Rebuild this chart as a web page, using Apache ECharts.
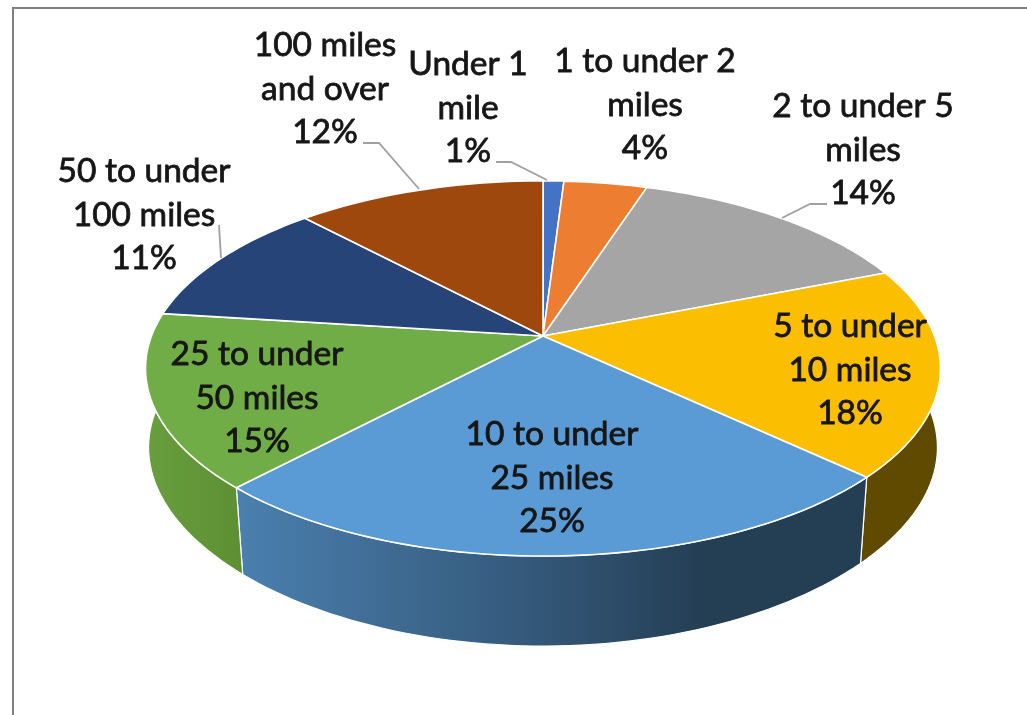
<!DOCTYPE html>
<html>
<head>
<meta charset="utf-8">
<style>
html,body{margin:0;padding:0;background:#fff;overflow:hidden}
#chart{width:1027px;height:715px;filter:blur(0.6px)}
</style>
<script src="https://cdn.jsdelivr.net/npm/echarts@6/dist/echarts.min.js"></script>
</head>
<body>
<div id="chart"></div>
<script>
// --- data ---
const categories = ['Under 1\nmile','1 to under 2\nmiles','2 to under 5\nmiles','5 to under\n10 miles','10 to under\n25 miles','25 to under\n50 miles','50 to under\n100 miles','100 miles\nand over'];
const shares = [1,4,14,18,25,15,11,12];
// --- styles and layout, separate from the data ---
const topColors = ['#4472c4','#ed7d31','#a5a5a5','#fbbe00','#5b9bd5','#70ad47','#264478','#9e480e'];
const wallColors = [
  '#2d4c84','#9e5320','#6e6e6e','#5f4a00',
  {type:'linear',global:true,x:240,y:0,x2:860,y2:0,colorStops:[
    {offset:0,color:'#4a7fae'},{offset:0.45,color:'#355a7c'},{offset:0.75,color:'#243e54'},{offset:1,color:'#243e54'}]},
  {type:'linear',global:true,x:150,y:0,x2:245,y2:0,colorStops:[
    {offset:0,color:'#689e3d'},{offset:1,color:'#5c8f33'}]},
  '#1a2e50','#6a3009'
];
const labelCenters = [[468,108],[645,105],[863,150],[850,370],[552,478],[257,398],[144,215],[325,89]];
const leaderPaths = [
  [[496,162],[511,162],[547,180]], null,
  [[827,204],[810,204],[782,218]], null, null, null,
  [[219,225],[221,258]],
  [[363,143],[379,143],[419,189]]
];
const apex = {x:543,y:336}, A = 391.5, B = 182, K = 0.173;
const WALL = {scaleX:0.993, taper:0.026, scaleY:1.05, drop:79};
const FONT = '33.5px Lato';

const total = shares.reduce((a,b)=>a+b,0);
const cumBefore = shares.map((_,i)=>shares.slice(0,i).reduce((a,b)=>a+b,0));

// perspective projection of a point on the unit-circle pie rim
function rim(frac){
  const t = frac*2*Math.PI, X = Math.sin(t), Y = Math.cos(t), w = 1+K*Y;
  return [A*X/w, -B*Y/w, Y];
}
function arcPoints(i, map){
  const a = cumBefore[i]/total, b = (cumBefore[i]+shares[i])/total;
  const n = Math.max(6, Math.ceil((b-a)*240)), pts = [];
  for(let k=0;k<=n;k++){ pts.push(map(rim(a+(b-a)*k/n))); }
  return pts;
}
const onTop = p => [apex.x+p[0], apex.y+p[1]];
const onBottom = p => [apex.x+p[0]*(WALL.scaleX-WALL.taper*p[2]*p[2]), apex.y+WALL.drop+p[1]*WALL.scaleY];

const renderWall = (params, api) => {
  const i = params.dataIndex;
  api.value(0);
  const pts = arcPoints(i,onTop).concat(arcPoints(i,onBottom).reverse());
  return {type:'polygon', shape:{points:pts}, style:{fill:wallColors[i], stroke:'#ffffff', lineWidth:1.2}};
};
const renderTop = (params, api) => {
  const i = params.dataIndex;
  api.value(0);
  const pts = [[apex.x,apex.y]].concat(arcPoints(i,onTop));
  return {type:'polygon', shape:{points:pts}, style:{fill:topColors[i], stroke:'#ffffff', lineWidth:1.6, lineJoin:'round'}};
};
const renderLabel = (params, api) => {
  const i = params.dataIndex, c = labelCenters[i], children = [];
  if(leaderPaths[i]) children.push({type:'polyline', shape:{points:leaderPaths[i]}, style:{fill:null, stroke:'#a0a0a0', lineWidth:1.8}});
  children.push({type:'text', style:{
    text: categories[i]+'\n'+api.value(0)+'%', x:c[0], y:c[1], align:'center', verticalAlign:'middle',
    font:FONT, lineHeight:43.7, fill:'#161616', stroke:'#161616', lineWidth:0.8
  }});
  return {type:'group', children};
};
const seriesData = shares.map(v=>[v]);
const chart = echarts.init(document.getElementById('chart'));
chart.setOption({
  animation:false,
  backgroundColor:'#ffffff',
  graphic:[{type:'polyline', z:0, shape:{points:[[13,715],[13,8],[1027,8]]}, style:{fill:null, stroke:'#7f7f7f', lineWidth:2}}],
  series:[
    {type:'custom', coordinateSystem:'none', silent:true, z:1, data:seriesData, renderItem:renderWall},
    {type:'custom', coordinateSystem:'none', silent:true, z:2, data:seriesData, renderItem:renderTop},
    {type:'custom', coordinateSystem:'none', silent:true, z:3, data:seriesData, renderItem:renderLabel}
  ]
});
</script>
</body>
</html>
